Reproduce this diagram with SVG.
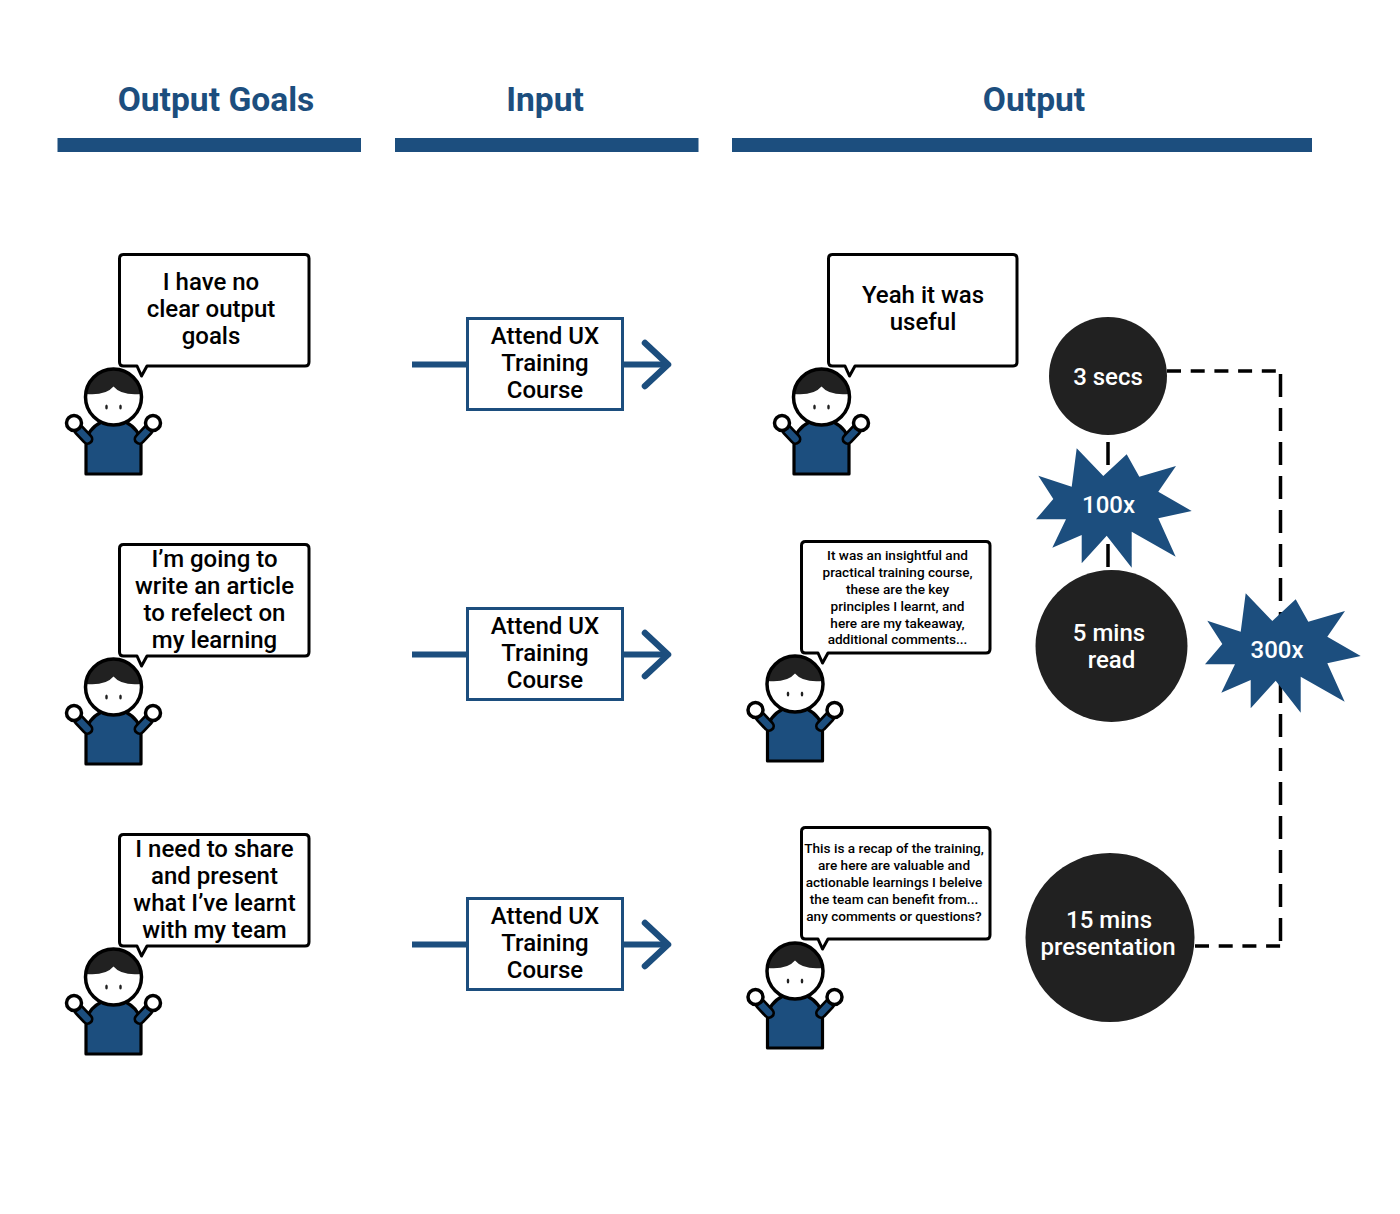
<svg xmlns="http://www.w3.org/2000/svg" xmlns:xlink="http://www.w3.org/1999/xlink" width="1400" height="1214" viewBox="0 0 1400 1214">
<style>
text{font-family:Roboto,"Liberation Sans",sans-serif;font-weight:500;text-anchor:middle;fill:#000}
.h{font-size:33.600px;fill:#1c4e7e;font-weight:700}
.b{font-size:24px}
.s{font-size:13.600px}
.w{fill:#fff;font-size:24px}
.bubble{fill:#fff;stroke:#000;stroke-width:3;stroke-linejoin:round}
.bar{fill:#1c4e7e}
.box{fill:#fff;stroke:#1c4e7e;stroke-width:3}
.link{fill:none;stroke:#1c4e7e;stroke-width:6}
.head{fill:none;stroke:#1c4e7e;stroke-width:6.500;stroke-linecap:round;stroke-linejoin:round}
.dash{fill:none;stroke:#000;stroke-width:3.500}
.disc{fill:#212121}
.star{fill:#1c4e7e}
</style>
<defs>
<g id="person">
<path d="M-27.500 77V46Q-26 32 -12 25H12Q26 32 27.500 46V77Z" fill="#1c4e7e" stroke="#000" stroke-width="3.200" stroke-linejoin="round"/>
<path d="M-34.500 33L-26 42" stroke="#000" stroke-width="12" stroke-linecap="round"/>
<path d="M34.500 33L26 42" stroke="#000" stroke-width="12" stroke-linecap="round"/>
<path d="M-34.500 33L-26 42" stroke="#1c4e7e" stroke-width="6.500" stroke-linecap="round"/>
<path d="M34.500 33L26 42" stroke="#1c4e7e" stroke-width="6.500" stroke-linecap="round"/>
<circle cx="-39.500" cy="26" r="7.500" fill="#fff" stroke="#000" stroke-width="3.500"/>
<circle cx="39.500" cy="26" r="7.500" fill="#fff" stroke="#000" stroke-width="3.500"/>
<circle cx="0" cy="0" r="28" fill="#fff"/>
<path d="M-27.800 -3A28 28 0 0 1 27.800 -3Q8 -1 0 -10.500Q-8 -1 -27.800 -3Z" fill="#212121"/>
<circle cx="0" cy="0" r="28" fill="none" stroke="#000" stroke-width="3.500"/>
<ellipse cx="-7" cy="10" rx="1.300" ry="2.600" fill="#212121"/>
<ellipse cx="7" cy="10" rx="1.300" ry="2.600" fill="#212121"/>
</g>
<path id="burst" d="M1076.700 448.300L1103.300 476L1126.700 454.300L1139.300 476.700L1176 466L1158.300 491.700L1191.700 511L1158.300 518.300L1175.700 556.700L1131.700 531.700L1131.700 567.700L1106.700 535.700L1081.700 563.300L1081.700 535L1052.300 547.700L1066 519.300L1036 519.300L1053.300 499L1038.300 475.700L1071.700 486.700Z"/>
</defs>
<rect width="1400" height="1214" fill="#fff"/>

<g id="connectors">
<path class="dash" d="M1167 371H1280.500" stroke-dasharray="14 9.700"/>
<path class="dash" d="M1280.500 374V946" stroke-dasharray="23 11"/>
<path class="dash" d="M1195 946H1280.500" stroke-dasharray="14 9.700"/>
<path class="dash" d="M1108 442V570" stroke-dasharray="23 11"/>
<path class="link" d="M412 364.500H467M623 364.500H667"/>
<path class="head" d="M645 343L668 364.500L645 386"/>
<path class="link" d="M412 654.500H467M623 654.500H667"/>
<path class="head" d="M645 633L668 654.500L645 676"/>
<path class="link" d="M412 944.500H467M623 944.500H667"/>
<path class="head" d="M645 923L668 944.500L645 966"/>
</g>

<g id="header-goals"><text class="h" x="216" y="111">Output Goals</text><rect class="bar" x="57.500" y="138" width="303.500" height="14"/></g>
<g id="header-input"><text class="h" x="545" y="111">Input</text><rect class="bar" x="395" y="138" width="303.500" height="14"/></g>
<g id="header-output"><text class="h" x="1034" y="111">Output</text><rect class="bar" x="732" y="138" width="580" height="14"/></g>

<g id="goal-1"><use href="#person" x="113.500" y="397"/>
<path class="bubble" d="M123.500 254.500H305Q309 254.500 309 258.500V362Q309 366 305 366H147L141.500 376L137 366H123.500Q119.500 366 119.500 362V258.500Q119.500 254.500 123.500 254.500Z"/>
<text class="b" x="211" y="290">I have no</text><text class="b" x="211" y="317">clear output</text><text class="b" x="211" y="344">goals</text></g>

<g id="goal-2"><use href="#person" x="113.500" y="687"/>
<path class="bubble" d="M123.500 544.500H305Q309 544.500 309 548.500V652Q309 656 305 656H147L141.500 666L137 656H123.500Q119.500 656 119.500 652V548.500Q119.500 544.500 123.500 544.500Z"/>
<text class="b" x="214.500" y="567">I’m going to</text><text class="b" x="214.500" y="594">write an article</text><text class="b" x="214.500" y="621">to refelect on</text><text class="b" x="214.500" y="648">my learning</text></g>

<g id="goal-3"><use href="#person" x="113.500" y="977"/>
<path class="bubble" d="M123.500 834.500H305Q309 834.500 309 838.500V942Q309 946 305 946H147L141.500 956L137 946H123.500Q119.500 946 119.500 942V838.500Q119.500 834.500 123.500 834.500Z"/>
<text class="b" x="214.500" y="857">I need to share</text><text class="b" x="214.500" y="884">and present</text><text class="b" x="214.500" y="911">what I’ve learnt</text><text class="b" x="214.500" y="938">with my team</text></g>

<g id="input-1"><rect class="box" x="467.500" y="318.500" width="155" height="91"/><text class="b" x="545" y="344">Attend UX</text><text class="b" x="545" y="371">Training</text><text class="b" x="545" y="398">Course</text></g>
<g id="input-2"><rect class="box" x="467.500" y="608.500" width="155" height="91"/><text class="b" x="545" y="634">Attend UX</text><text class="b" x="545" y="661">Training</text><text class="b" x="545" y="688">Course</text></g>
<g id="input-3"><rect class="box" x="467.500" y="898.500" width="155" height="91"/><text class="b" x="545" y="924">Attend UX</text><text class="b" x="545" y="951">Training</text><text class="b" x="545" y="978">Course</text></g>

<g id="output-1"><use href="#person" x="821.500" y="397"/>
<path class="bubble" d="M832.500 254.500H1013Q1017 254.500 1017 258.500V362Q1017 366 1013 366H855L849.500 376L845 366H832.500Q828.500 366 828.500 362V258.500Q828.500 254.500 832.500 254.500Z"/>
<text class="b" x="923" y="303">Yeah it was</text><text class="b" x="923" y="330">useful</text></g>

<g id="output-2"><use href="#person" x="795" y="684"/>
<path class="bubble" d="M805.500 541.500H986Q990 541.500 990 545.500V649Q990 653 986 653H828L822.500 663L818 653H805.500Q801.500 653 801.500 649V545.500Q801.500 541.500 805.500 541.500Z"/>
<text class="s" x="897.500" y="560">It was an insightful and</text><text class="s" x="897.500" y="577">practical training course,</text><text class="s" x="897.500" y="594">these are the key</text><text class="s" x="897.500" y="610.500">principles I learnt, and</text><text class="s" x="897.500" y="627.500">here are my takeaway,</text><text class="s" x="897.500" y="644">additional comments...</text></g>

<g id="output-3"><use href="#person" x="795" y="971"/>
<path class="bubble" d="M805.500 827.500H986Q990 827.500 990 831.500V935Q990 939 986 939H828L822.500 949L818 939H805.500Q801.500 939 801.500 935V831.500Q801.500 827.500 805.500 827.500Z"/>
<text class="s" x="894" y="853">This is a recap of the training,</text><text class="s" x="894" y="870">are here are valuable and</text><text class="s" x="894" y="887">actionable learnings I beleive</text><text class="s" x="894" y="904">the team can benefit from...</text><text class="s" x="894" y="921">any comments or questions?</text></g>

<g id="time-3secs"><circle class="disc" cx="1108" cy="376" r="59"/><text class="w" x="1108" y="385">3 secs</text></g>
<g id="burst-100x"><use class="star" href="#burst"/><text class="w" x="1108.500" y="513">100x</text></g>
<g id="time-5mins"><circle class="disc" cx="1111.500" cy="646" r="76"/><text class="w" x="1109" y="640.500">5 mins</text><text class="w" x="1111.500" y="667.500">read</text></g>
<g id="burst-300x"><use class="star" href="#burst" x="169" y="145"/><text class="w" x="1277" y="658">300x</text></g>
<g id="time-15mins"><circle class="disc" cx="1110" cy="937.500" r="84.500"/><text class="w" x="1109" y="928">15 mins</text><text class="w" x="1108" y="955">presentation</text></g>
</svg>
